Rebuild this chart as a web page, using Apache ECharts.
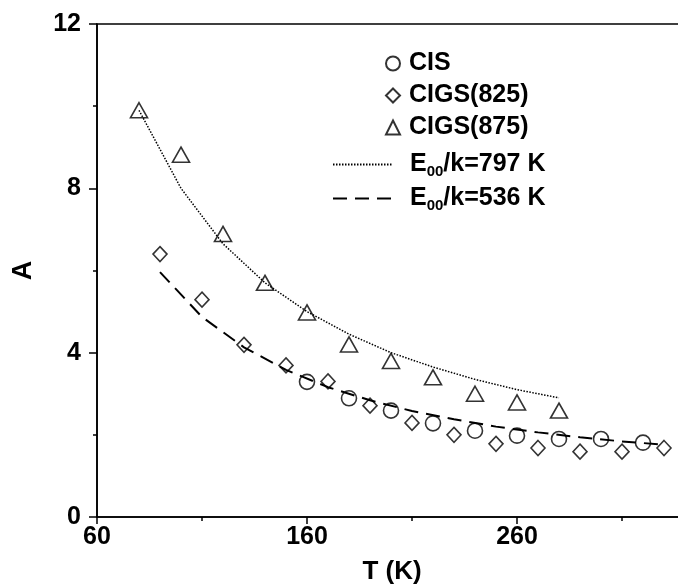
<!DOCTYPE html>
<html>
<head>
<meta charset="utf-8">
<script src="https://cdn.jsdelivr.net/npm/echarts@6/dist/echarts.min.js"></script>
<style>
  html, body { margin: 0; padding: 0; background: #fff; }
  #chart { width: 678px; height: 588px; }
</style>
</head>
<body>
<div id="chart"></div>
<script>
// Temperature axis (K) and ideality-factor values A for each sample
const cisT = [160, 180, 200, 220, 240, 260, 280, 300, 320];
const cisA = [3.29, 2.89, 2.59, 2.28, 2.10, 1.98, 1.90, 1.90, 1.81];

const cigs825T = [90, 110, 130, 150, 170, 190, 210, 230, 250, 270, 290, 310, 330];
const cigs825A = [6.40, 5.29, 4.19, 3.69, 3.30, 2.71, 2.29, 2.00, 1.78, 1.68, 1.59, 1.59, 1.68];

const cigs875T = [80, 100, 120, 140, 160, 180, 200, 220, 240, 260, 280];
const cigs875A = [9.9, 8.82, 6.89, 5.70, 4.98, 4.20, 3.80, 3.40, 3.00, 2.79, 2.59];

// Tunneling fit curves
const fit797T = [80, 100, 120, 140, 160, 180, 200, 220, 240, 260, 280];
const fit797A = [9.9, 8.0, 6.65, 5.7, 5.0, 4.45, 4.0, 3.65, 3.35, 3.1, 2.9];

const fit536T = [90, 110, 130, 150, 170, 190, 210, 230, 250, 270, 290, 310, 330];
const fit536A = [5.96, 4.87, 4.13, 3.58, 3.16, 2.84, 2.58, 2.38, 2.20, 2.06, 1.94, 1.84, 1.76];

const seriesNames = ['CIS', 'CIGS(825)', 'CIGS(875)', 'E00/k=797 K', 'E00/k=536 K'];
const fitLabels = {
  'E00/k=797 K': '{b|E}{s|00}{b|/k=797 K}',
  'E00/k=536 K': '{b|E}{s|00}{b|/k=536 K}'
};

const pairs = (xs, ys) => xs.map((x, i) => [x, ys[i]]);

const FONT = 'Liberation Sans, Arial, sans-serif';
const BLACK = '#000';

const markerStyle = {
  color: 'rgba(0,0,0,0)',
  borderColor: BLACK,
  borderWidth: 1.6
};

const chart = echarts.init(document.getElementById('chart'), null, { renderer: 'canvas' });

chart.setOption({
  animation: false,
  backgroundColor: '#fff',
  grid: {
    left: 97,
    top: 24,
    width: 630,
    bottom: 71,
    outerBoundsMode: 'none',
    containLabel: false,
    show: true,
    borderColor: BLACK,
    borderWidth: 1.6,
    backgroundColor: 'transparent'
  },
  xAxis: {
    type: 'value',
    min: 60,
    max: 360,
    interval: 100,
    name: 'T (K)',
    nameLocation: 'middle',
    nameGap: 42,
    nameTextStyle: {
      fontFamily: FONT, fontWeight: 'bold', fontSize: 26, color: BLACK,
      padding: [0, 40, 0, 0]
    },
    axisLine: { onZero: false, lineStyle: { color: BLACK, width: 1.6 } },
    axisTick: { length: 7, lineStyle: { color: BLACK, width: 1.5 } },
    minorTick: { show: true, splitNumber: 2, length: 4, lineStyle: { color: BLACK, width: 1.5 } },
    splitLine: { show: false },
    axisLabel: {
      fontFamily: FONT, fontWeight: 'bold', fontSize: 25, color: BLACK,
      margin: 8, showMaxLabel: false
    }
  },
  yAxis: {
    type: 'value',
    min: 0,
    max: 12,
    interval: 4,
    name: 'A',
    nameLocation: 'middle',
    nameGap: 60,
    nameTextStyle: { fontFamily: FONT, fontWeight: 'bold', fontSize: 27, color: BLACK },
    axisLine: { onZero: false, lineStyle: { color: BLACK, width: 1.6 } },
    axisTick: { length: 8, lineStyle: { color: BLACK, width: 1.5 } },
    minorTick: { show: true, splitNumber: 2, length: 4, lineStyle: { color: BLACK, width: 1.5 } },
    splitLine: { show: false },
    axisLabel: {
      fontFamily: FONT, fontWeight: 'bold', fontSize: 25, color: BLACK,
      margin: 16
    }
  },
  legend: [
    {
      data: seriesNames.slice(0, 3),
      orient: 'vertical',
      left: 380,
      top: 46,
      itemWidth: 14,
      itemHeight: 14,
      itemGap: 7,
      textStyle: {
        fontFamily: FONT, fontWeight: 'bold', fontSize: 25, color: BLACK,
        padding: [0, 0, 0, 4]
      }
    },
    {
      data: seriesNames.slice(3),
      orient: 'vertical',
      left: 327,
      top: 147,
      itemWidth: 60,
      itemHeight: 14,
      itemGap: 7,
      itemStyle: { opacity: 0 },
      formatter: (name) => fitLabels[name],
      textStyle: {
        fontFamily: FONT, fontWeight: 'bold', fontSize: 25, color: BLACK,
        padding: [0, 0, 0, 12],
        rich: {
          b: { fontFamily: FONT, fontWeight: 'bold', fontSize: 25, color: BLACK },
          s: { fontFamily: FONT, fontWeight: 'bold', fontSize: 15, color: BLACK, padding: [14, 0, 0, 0] }
        }
      }
    }
  ],
  series: [
    {
      name: 'E00/k=797 K',
      type: 'line',
      data: pairs(fit797T, fit797A),
      symbol: 'none',
      lineStyle: { color: BLACK, width: 1.5, type: [1.5, 1.5] },
      itemStyle: { color: BLACK },
      z: 2
    },
    {
      name: 'E00/k=536 K',
      type: 'line',
      data: pairs(fit536T, fit536A),
      symbol: 'none',
      lineStyle: { color: BLACK, width: 2, type: [14, 8] },
      itemStyle: { color: BLACK },
      z: 2
    },
    {
      name: 'CIS',
      type: 'scatter',
      data: pairs(cisT, cisA),
      symbol: 'circle',
      symbolSize: 15,
      itemStyle: markerStyle,
      z: 3
    },
    {
      name: 'CIGS(825)',
      type: 'scatter',
      data: pairs(cigs825T, cigs825A),
      symbol: 'diamond',
      symbolSize: [14, 15],
      itemStyle: markerStyle,
      z: 3
    },
    {
      name: 'CIGS(875)',
      type: 'scatter',
      data: pairs(cigs875T, cigs875A),
      symbol: 'triangle',
      symbolSize: [17, 15],
      itemStyle: markerStyle,
      z: 3
    }
  ]
});
</script>
</body>
</html>
